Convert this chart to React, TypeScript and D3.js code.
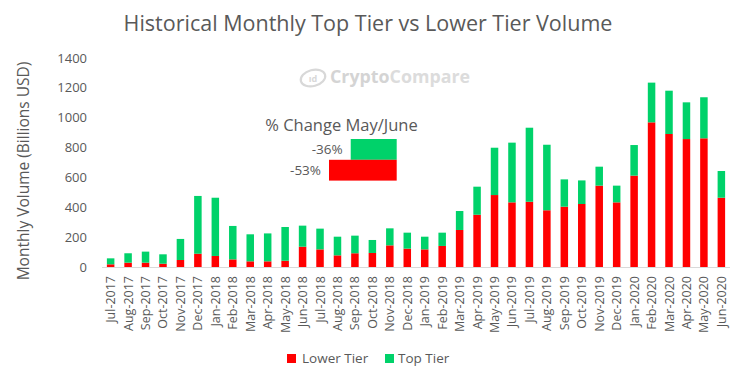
import React from "react";
import * as d3 from "d3";

const months = [
  "Jul-2017","Aug-2017","Sep-2017","Oct-2017","Nov-2017","Dec-2017",
  "Jan-2018","Feb-2018","Mar-2018","Apr-2018","May-2018","Jun-2018",
  "Jul-2018","Aug-2018","Sep-2018","Oct-2018","Nov-2018","Dec-2018",
  "Jan-2019","Feb-2019","Mar-2019","Apr-2019","May-2019","Jun-2019",
  "Jul-2019","Aug-2019","Sep-2019","Oct-2019","Nov-2019","Dec-2019",
  "Jan-2020","Feb-2020","Mar-2020","Apr-2020","May-2020","Jun-2020",
];
const lowerTier = [
  18, 29, 29, 22, 47, 89,
  74, 51, 38, 38, 42, 136,
  118, 78, 92, 94, 145, 123,
  118, 141, 248, 350, 482, 433,
  437, 380, 404, 422, 545, 433,
  612, 969, 891, 857, 862, 464,
];
const topTier = [
  40, 63, 74, 63, 141, 387,
  390, 224, 181, 187, 226, 141,
  139, 125, 118, 87, 114, 107,
  85, 89, 127, 188, 317, 400,
  496, 439, 183, 158, 127, 112,
  205, 266, 290, 246, 275, 179,
];
const yTicks = [0, 200, 400, 600, 800, 1000, 1200, 1400];
const changeLabels = ["-36%", "-53%"];
const changeValues = [36, 53];
const changeColors = ["#00d26a", "#ff0000"];

const RED = "#ff0000";
const GREEN = "#00d26a";
const TEXT = "#595959";
const FONT = "'Open Sans', 'Noto Sans', sans-serif";

export default function App() {
  const width = 750;
  const height = 375;
  const x = d3.scaleBand<string>().domain(months).range([102, 730]).paddingInner(0.57).paddingOuter(0.28);
  const y = d3.scaleLinear().domain([0, 1400]).range([267, 58]);
  const cScale = d3.scaleLinear().domain([0, 53]).range([0, 67.7]);
  const stackData = months.map((m, i) => ({ m, lower: lowerTier[i], top: topTier[i] }));
  const series = d3.stack<any>().keys(["lower", "top"])(stackData);
  const colors = [RED, GREEN];

  return (
    <svg width={width} height={height} style={{ position: "absolute", left: 0, top: 0, background: "#fff" }} fontFamily={FONT}>
      <rect x={0} y={0} width={width} height={height} fill="#fff" />
      <text x={368} y={31} textAnchor="middle" fontSize={21.5} fill={TEXT}>
        Historical Monthly Top Tier vs Lower Tier Volume
      </text>
      {/* watermark */}
      <g>
        <ellipse cx={313} cy={78} rx={12.5} ry={8} fill="none" stroke="#d8d8d8" strokeWidth={2.2} transform="rotate(-15 313 78)" />
        <text x={313} y={82} textAnchor="middle" fontSize={9} fill="#d8d8d8" fontWeight="bold">ıd</text>
        <text x={330} y={83} fontSize={18} fontWeight="bold" fill="#d4d4d4" textLength={140} lengthAdjust="spacingAndGlyphs">
          <tspan>Crypto</tspan><tspan fill="#dcdcdc">Compare</tspan>
        </text>
      </g>
      {/* y axis label */}
      <text transform="translate(29,171) rotate(-90)" textAnchor="middle" fontSize={15.5} fill={TEXT}>
        Monthly Volume (Billions USD)
      </text>
      {yTicks.map((t) => (
        <text key={t} x={87} y={y(t)} dy="0.35em" textAnchor="end" fontSize={13} fill={TEXT}>
          {t}
        </text>
      ))}
      <line x1={102} x2={730} y1={y(0) + 0.5} y2={y(0) + 0.5} stroke="#d9d9d9" strokeWidth={1} />
      {series.map((s, si) =>
        s.map((d, i) => (
          <rect
            key={si + "-" + i}
            x={x(months[i])}
            width={x.bandwidth()}
            y={y(d[1])}
            height={y(d[0]) - y(d[1])}
            fill={colors[si]}
          />
        ))
      )}
      {months.map((m) => (
        <text
          key={m}
          transform={`translate(${(x(m) as number) + x.bandwidth() / 2 + 4.5},276) rotate(-90)`}
          textAnchor="end"
          fontSize={12.5}
          fill={TEXT}
        >
          {m}
        </text>
      ))}
      {/* inset */}
      <text x={341.5} y={131} textAnchor="middle" fontSize={16.5} fill={TEXT}>% Change May/June</text>
      {changeValues.map((v, i) => (
        <g key={i}>
          <rect x={396.7 - cScale(v)} y={139 + i * 20.8} width={cScale(v)} height={20.8} fill={changeColors[i]} />
          <text x={396.7 - cScale(v) - 8} y={139 + i * 20.8 + 10.4} dy="0.35em" textAnchor="end" fontSize={13.5} fill={TEXT}>
            {changeLabels[i]}
          </text>
        </g>
      ))}
      {/* legend */}
      <rect x={287} y={354} width={9} height={9} fill={RED} />
      <text x={302} y={358.5} dy="0.35em" fontSize={13.5} fill={TEXT}>Lower Tier</text>
      <rect x={385} y={354} width={9} height={9} fill={GREEN} />
      <text x={398} y={358.5} dy="0.35em" fontSize={13.5} fill={TEXT}>Top Tier</text>
    </svg>
  );
}
